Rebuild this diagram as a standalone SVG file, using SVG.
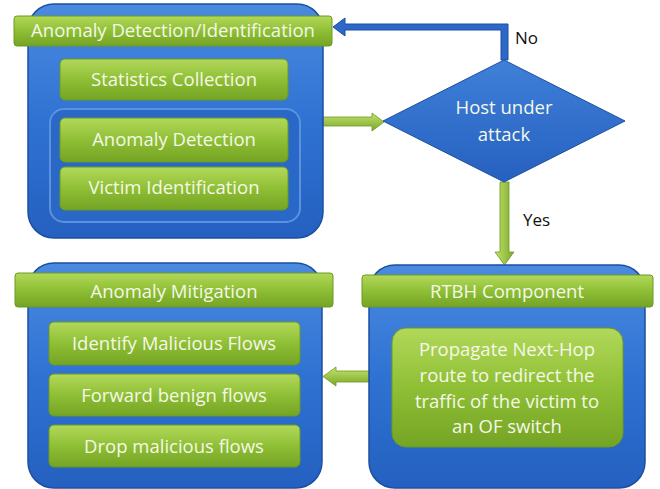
<svg xmlns="http://www.w3.org/2000/svg" width="660" height="489" viewBox="0 0 660 489">
<defs>
  <linearGradient id="gBlue" x1="0" y1="0" x2="0" y2="1">
    <stop offset="0" stop-color="#4a8be0"/>
    <stop offset="0.5" stop-color="#2f72d2"/>
    <stop offset="1" stop-color="#2460c0"/>
  </linearGradient>
  <linearGradient id="gGreen" x1="0" y1="0" x2="0" y2="1">
    <stop offset="0" stop-color="#b2d85a"/>
    <stop offset="0.5" stop-color="#8fbf35"/>
    <stop offset="1" stop-color="#74a424"/>
  </linearGradient>
  <linearGradient id="gArrowG" x1="0" y1="0" x2="0" y2="1">
    <stop offset="0" stop-color="#c4e26c"/>
    <stop offset="1" stop-color="#7aa82a"/>
  </linearGradient>
  <linearGradient id="gArrowGv" x1="0" y1="0" x2="1" y2="0">
    <stop offset="0" stop-color="#c4e26c"/>
    <stop offset="1" stop-color="#7aa82a"/>
  </linearGradient>
  <linearGradient id="gDiamond" x1="0" y1="0" x2="0" y2="1">
    <stop offset="0" stop-color="#3f80d8"/>
    <stop offset="1" stop-color="#2660c0"/>
  </linearGradient>
</defs>
<style>
  .outer { fill: url(#gBlue); stroke: #1d4fa0; stroke-width: 1.5; }
  .inner { fill: #2a68c8; stroke: #5a92e0; stroke-width: 2; }
  .bar { fill: url(#gGreen); stroke: #6a9a22; stroke-width: 1; }
  .item { fill: url(#gGreen); stroke: #6a9a22; stroke-width: 1; }
  .txt { font-family: "Open Sans", "Liberation Sans", sans-serif; fill: #f4f8e8; text-anchor: middle; font-size: 18.5px; }
  .lbl { font-family: "Open Sans", "Liberation Sans", sans-serif; fill: #111; font-size: 17px; }
</style>

<g id="connectors">
  <path d="M501,60 L501,30 L345,30 L345,36 L333,27 L345,18 L345,24 L508,24 L508,60 Z" fill="#2c68c8" stroke="#1d4fa0" stroke-width="1"/>
  <path d="M322,117 L372,117 L372,113 L384,122 L372,131 L372,126 L322,126 Z" fill="url(#gArrowG)" stroke="#6a9a22" stroke-width="0.8"/>
  <path d="M500,182 L509,182 L509,252 L514,252 L504.5,265 L495,252 L500,252 Z" fill="url(#gArrowGv)" stroke="#6a9a22" stroke-width="0.8"/>
  <path d="M379,371 L336,371 L336,367 L323,376.5 L336,386 L336,382 L379,382 Z" fill="url(#gArrowG)" stroke="#6a9a22" stroke-width="0.8"/>
  <text class="lbl" x="515" y="44">No</text>
  <text class="lbl" x="523" y="226">Yes</text>
</g>

<g id="detection">
  <rect class="outer" x="28" y="4" width="295" height="234" rx="26"/>
  <rect class="bar" x="14" y="16" width="318" height="30" rx="3"/>
  <text class="txt" x="173" y="37">Anomaly Detection/Identification</text>
  <g id="stats">
    <rect class="item" x="60" y="59" width="228" height="41" rx="5"/>
    <text class="txt" x="174" y="86">Statistics Collection</text>
  </g>
  <g id="detect-group">
    <rect class="inner" x="50" y="109" width="250" height="113" rx="14"/>
    <g id="anomaly-detection">
      <rect class="item" x="60" y="118" width="228" height="44" rx="5"/>
      <text class="txt" x="174" y="146">Anomaly Detection</text>
    </g>
    <g id="victim-identification">
      <rect class="item" x="60" y="167" width="228" height="43" rx="5"/>
      <text class="txt" x="174" y="194">Victim Identification</text>
    </g>
  </g>
</g>

<g id="decision">
  <polygon points="504,60 625,121 504,182 383,121" fill="url(#gDiamond)" stroke="#1d4fa0" stroke-width="1"/>
  <text class="txt" x="504" y="114">Host under</text>
  <text class="txt" x="504" y="141">attack</text>
</g>

<g id="mitigation">
  <rect class="outer" x="28" y="263" width="294" height="225" rx="26"/>
  <rect class="bar" x="15" y="273" width="318" height="34" rx="3"/>
  <text class="txt" x="174" y="298">Anomaly Mitigation</text>
  <g id="identify">
    <rect class="item" x="49" y="322" width="251" height="43" rx="5"/>
    <text class="txt" x="174" y="350">Identify Malicious Flows</text>
  </g>
  <g id="forward">
    <rect class="item" x="49" y="374" width="251" height="42" rx="5"/>
    <text class="txt" x="174" y="402">Forward benign flows</text>
  </g>
  <g id="drop">
    <rect class="item" x="49" y="425" width="251" height="42" rx="5"/>
    <text class="txt" x="174" y="453">Drop malicious flows</text>
  </g>
</g>

<g id="rtbh">
  <rect class="outer" x="369" y="265" width="276" height="223" rx="26"/>
  <rect class="bar" x="362" y="275" width="291" height="32" rx="3"/>
  <text class="txt" x="507" y="298">RTBH Component</text>
  <g id="propagate">
    <rect class="item" x="392" y="328" width="231" height="119" rx="14"/>
    <text class="txt" x="507" y="356">Propagate Next-Hop</text>
    <text class="txt" x="507" y="382">route to redirect the</text>
    <text class="txt" x="507" y="408">traffic of the victim to</text>
    <text class="txt" x="507" y="433">an OF switch</text>
  </g>
</g>
</svg>
